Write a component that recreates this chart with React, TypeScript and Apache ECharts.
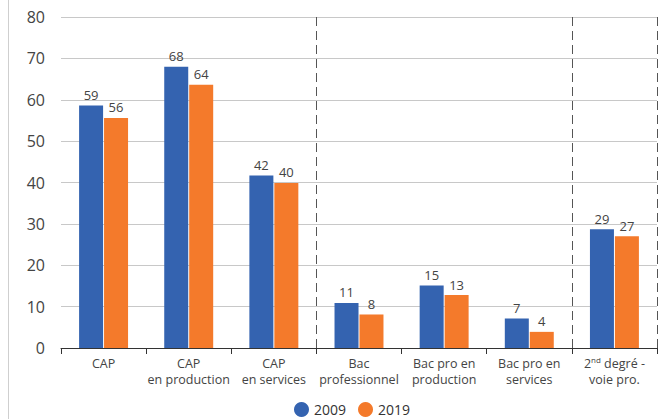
import React, { useEffect, useRef } from "react";
import * as echarts from "echarts";

const categories = [
  "CAP",
  "CAP\nen production",
  "CAP\nen services",
  "Bac\nprofessionnel",
  "Bac pro en\nproduction",
  "Bac pro en\nservices",
  "2{sup|nd} degré -\nvoie pro.",
];
const values2009 = [58.6, 68.0, 41.7, 10.9, 15.1, 7.1, 28.7];
const values2019 = [55.6, 63.6, 39.9, 8.1, 12.8, 3.9, 27.0];
const yTicks = { min: 0, max: 80, interval: 10 };
const separatorIndices = [3, 6];

const FONT = "'Open Sans', sans-serif";

export default function App() {
  const ref = useRef<HTMLDivElement>(null);
  useEffect(() => {
    document.body.style.margin = "0";
    const chart = echarts.init(ref.current!, undefined, { renderer: "svg" });
    const labelStyle = {
      show: true,
      position: "top" as const,
      distance: 4,
      color: "#444",
      fontSize: 13,
      fontFamily: FONT,
      formatter: (p: any) => String(Math.round(p.value)),
    };
    chart.setOption({
      animation: false,
      textStyle: { fontFamily: FONT },
      grid: { left: 61, right: 1, top: 17, bottom: 71, containLabel: false },
      legend: {
        bottom: 2,
        left: 294,
        padding: 0,
        icon: "circle",
        itemWidth: 15,
        itemHeight: 15,
        itemGap: 12,
        textStyle: { color: "#333", fontSize: 14, fontFamily: FONT },
        data: ["2009", "2019"],
      },
      xAxis: {
        type: "category",
        data: categories,
        axisLine: { show: true, lineStyle: { color: "#333", width: 1 } },
        axisTick: { show: true, length: 6, lineStyle: { color: "#333" } },
        axisLabel: {
          color: "#444",
          fontSize: 12.5,
          fontFamily: FONT,
          lineHeight: 16,
          margin: 7,
          interval: 0,
          rich: {
            sup: { fontSize: 8, verticalAlign: "top", lineHeight: 10, color: "#444", fontFamily: FONT },
          },
        },
        splitLine: {
          show: true,
          interval: (index: number) => separatorIndices.includes(index),
          lineStyle: { color: "#555", type: [9, 5], width: 1 },
        },
      },
      yAxis: {
        type: "value",
        min: yTicks.min,
        max: yTicks.max,
        interval: yTicks.interval,
        axisLine: { show: false },
        axisTick: { show: false },
        axisLabel: { color: "#444", fontSize: 16, fontFamily: FONT, margin: 16 },
        splitLine: { lineStyle: { color: "#c8c8c8", width: 1 } },
      },
      series: [
        {
          name: "2009",
          type: "bar",
          data: values2009,
          barWidth: 24,
          barGap: "4%",
          itemStyle: { color: "#3463b0" },
          label: labelStyle,
        },
        {
          name: "2019",
          type: "bar",
          data: values2019,
          barWidth: 24,
          barGap: "4%",
          itemStyle: { color: "#f47a2b" },
          label: labelStyle,
        },
      ],
      graphic: [
        {
          type: "line",
          shape: { x1: 8.5, y1: 0, x2: 8.5, y2: 419 },
          style: { stroke: "#cfcfcf", lineWidth: 1 },
        },
      ],
    });
    return () => chart.dispose();
  }, []);
  return <div ref={ref} style={{ width: 658, height: 419 }} />;
}
